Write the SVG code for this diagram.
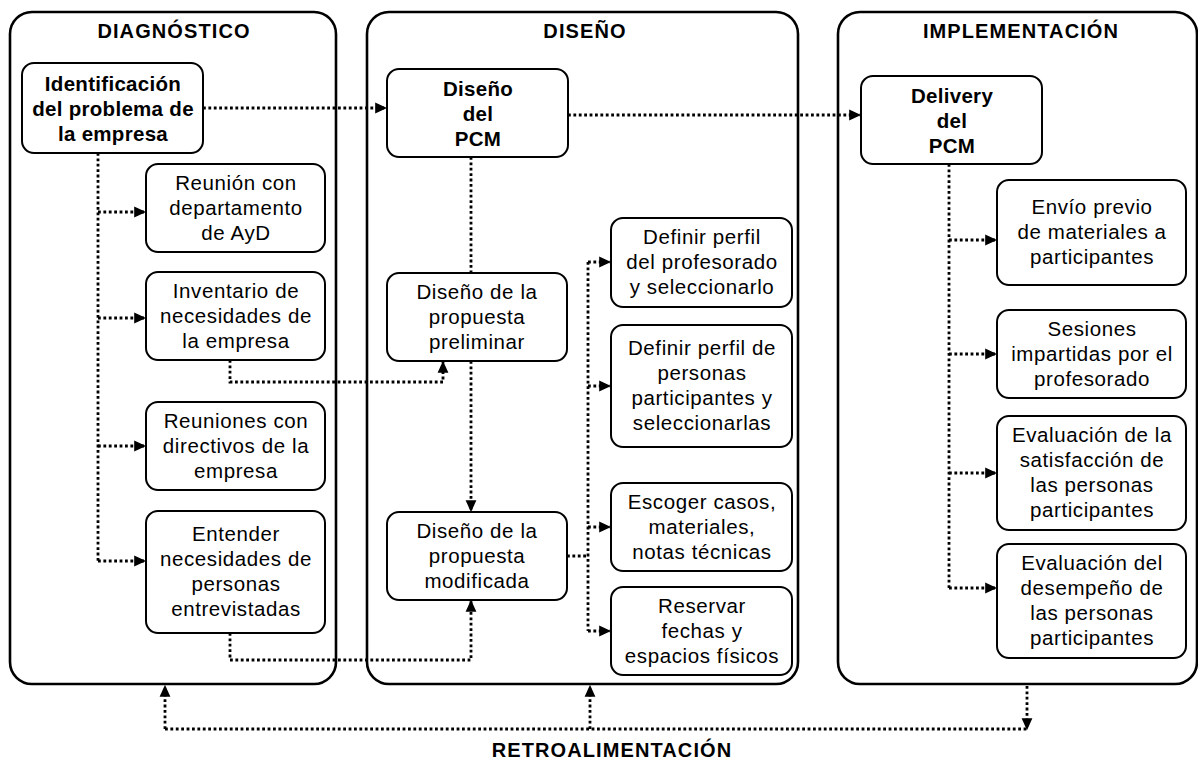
<svg xmlns="http://www.w3.org/2000/svg" width="1198" height="760" viewBox="0 0 1198 760">
<defs>
<style>
.cont{fill:#fff;stroke:#000;stroke-width:2.6}
.node{fill:#fff;stroke:#000;stroke-width:2}
.title{font-family:"Liberation Sans",Arial,sans-serif;font-weight:bold;font-size:20px;letter-spacing:1.1px;text-anchor:middle;fill:#000}
.t{font-family:"Liberation Sans",Arial,sans-serif;font-size:20.5px;letter-spacing:0.6px;text-anchor:middle;fill:#000}
.b{font-weight:bold;letter-spacing:0.3px}
.c{fill:none;stroke:#000;stroke-width:2.8;stroke-dasharray:2.8 2.6}
</style>
<marker id="ah" viewBox="0 0 10 10" refX="9" refY="5" markerWidth="12" markerHeight="12" markerUnits="userSpaceOnUse" orient="auto">
<path d="M0,0.5 L10,5 L0,9.5 z" fill="#000"/>
</marker>
</defs>
<rect width="1198" height="760" fill="#fff"/>

<g id="diagnostico">
<rect class="cont" x="10" y="12" width="326" height="672" rx="22"/>
<text class="title" x="174" y="38">DIAGNÓSTICO</text>
</g>
<g id="diseno">
<rect class="cont" x="367" y="12" width="431" height="672" rx="22"/>
<text class="title" x="585" y="38">DISEÑO</text>
</g>
<g id="implementacion">
<rect class="cont" x="838" y="12" width="359" height="672" rx="22"/>
<text class="title" x="1021" y="38">IMPLEMENTACIÓN</text>
</g>

<g id="connectors">
<path class="c" d="M203,108 H386" marker-end="url(#ah)"/>
<path class="c" d="M98,153 V561"/>
<path class="c" d="M98,212 H145" marker-end="url(#ah)"/>
<path class="c" d="M98,318 H145" marker-end="url(#ah)"/>
<path class="c" d="M98,446 H145" marker-end="url(#ah)"/>
<path class="c" d="M98,561 H145" marker-end="url(#ah)"/>
<path class="c" d="M230,360 V382 H443 V362" marker-end="url(#ah)"/>
<path class="c" d="M230,633 V660 H471 V601" marker-end="url(#ah)"/>
<path class="c" d="M471,157 V273"/>
<path class="c" d="M471,361 V511" marker-end="url(#ah)"/>
<path class="c" d="M567,556 H588"/>
<path class="c" d="M588,262 V631"/>
<path class="c" d="M588,262 H610" marker-end="url(#ah)"/>
<path class="c" d="M588,386 H610" marker-end="url(#ah)"/>
<path class="c" d="M588,527 H610" marker-end="url(#ah)"/>
<path class="c" d="M588,631 H610" marker-end="url(#ah)"/>
<path class="c" d="M568,115 H860" marker-end="url(#ah)"/>
<path class="c" d="M949,164 V588"/>
<path class="c" d="M949,240 H996" marker-end="url(#ah)"/>
<path class="c" d="M949,354 H996" marker-end="url(#ah)"/>
<path class="c" d="M949,473 H996" marker-end="url(#ah)"/>
<path class="c" d="M949,588 H996" marker-end="url(#ah)"/>
<path class="c" d="M165,729 H1027"/>
<path class="c" d="M165,729 V686" marker-end="url(#ah)"/>
<path class="c" d="M590,729 V686" marker-end="url(#ah)"/>
<path class="c" d="M1027,686 V729" marker-end="url(#ah)"/>
</g>

<g id="n-identificacion">
<rect class="node" x="22" y="63" width="181" height="90" rx="12"/>
<text class="t b" x="113" y="91">Identificación</text>
<text class="t b" x="113" y="116">del problema de</text>
<text class="t b" x="113" y="141">la empresa</text>
</g>
<g id="n-reunion">
<rect class="node" x="146" y="164" width="179" height="88" rx="12"/>
<text class="t" x="236" y="190">Reunión con</text>
<text class="t" x="236" y="215">departamento</text>
<text class="t" x="236" y="240">de AyD</text>
</g>
<g id="n-inventario">
<rect class="node" x="146" y="272" width="179" height="88" rx="12"/>
<text class="t" x="236" y="298">Inventario de</text>
<text class="t" x="236" y="323">necesidades de</text>
<text class="t" x="236" y="348">la empresa</text>
</g>
<g id="n-reuniones">
<rect class="node" x="146" y="402" width="179" height="88" rx="12"/>
<text class="t" x="236" y="428">Reuniones con</text>
<text class="t" x="236" y="453">directivos de la</text>
<text class="t" x="236" y="478">empresa</text>
</g>
<g id="n-entender">
<rect class="node" x="146" y="511" width="179" height="122" rx="12"/>
<text class="t" x="236" y="541">Entender</text>
<text class="t" x="236" y="566">necesidades de</text>
<text class="t" x="236" y="591">personas</text>
<text class="t" x="236" y="616">entrevistadas</text>
</g>

<g id="n-disenopcm">
<rect class="node" x="387" y="69" width="181" height="88" rx="12"/>
<text class="t b" x="478" y="96">Diseño</text>
<text class="t b" x="478" y="121">del</text>
<text class="t b" x="478" y="146">PCM</text>
</g>
<g id="n-preliminar">
<rect class="node" x="387" y="273" width="180" height="88" rx="12"/>
<text class="t" x="477" y="299">Diseño de la</text>
<text class="t" x="477" y="324">propuesta</text>
<text class="t" x="477" y="349">preliminar</text>
</g>
<g id="n-modificada">
<rect class="node" x="387" y="512" width="180" height="88" rx="12"/>
<text class="t" x="477" y="538">Diseño de la</text>
<text class="t" x="477" y="563">propuesta</text>
<text class="t" x="477" y="588">modificada</text>
</g>
<g id="n-profesorado">
<rect class="node" x="611" y="218" width="181" height="89" rx="12"/>
<text class="t" x="702" y="244">Definir perfil</text>
<text class="t" x="702" y="269">del profesorado</text>
<text class="t" x="702" y="294">y seleccionarlo</text>
</g>
<g id="n-personas">
<rect class="node" x="611" y="325" width="181" height="122" rx="12"/>
<text class="t" x="702" y="355">Definir perfil de</text>
<text class="t" x="702" y="380">personas</text>
<text class="t" x="702" y="405">participantes y</text>
<text class="t" x="702" y="430">seleccionarlas</text>
</g>
<g id="n-escoger">
<rect class="node" x="611" y="483" width="181" height="88" rx="12"/>
<text class="t" x="702" y="509">Escoger casos,</text>
<text class="t" x="702" y="534">materiales,</text>
<text class="t" x="702" y="559">notas técnicas</text>
</g>
<g id="n-reservar">
<rect class="node" x="611" y="587" width="181" height="88" rx="12"/>
<text class="t" x="702" y="613">Reservar</text>
<text class="t" x="702" y="638">fechas y</text>
<text class="t" x="702" y="663">espacios físicos</text>
</g>

<g id="n-delivery">
<rect class="node" x="861" y="76" width="181" height="88" rx="12"/>
<text class="t b" x="952" y="103">Delivery</text>
<text class="t b" x="952" y="128">del</text>
<text class="t b" x="952" y="153">PCM</text>
</g>
<g id="n-envio">
<rect class="node" x="997" y="180" width="189" height="105" rx="12"/>
<text class="t" x="1092" y="214">Envío previo</text>
<text class="t" x="1092" y="239">de materiales a</text>
<text class="t" x="1092" y="264">participantes</text>
</g>
<g id="n-sesiones">
<rect class="node" x="997" y="310" width="189" height="88" rx="12"/>
<text class="t" x="1092" y="336">Sesiones</text>
<text class="t" x="1092" y="361">impartidas por el</text>
<text class="t" x="1092" y="386">profesorado</text>
</g>
<g id="n-satisfaccion">
<rect class="node" x="997" y="416" width="189" height="114" rx="12"/>
<text class="t" x="1092" y="442">Evaluación de la</text>
<text class="t" x="1092" y="467">satisfacción de</text>
<text class="t" x="1092" y="492">las personas</text>
<text class="t" x="1092" y="517">participantes</text>
</g>
<g id="n-desempeno">
<rect class="node" x="997" y="544" width="189" height="114" rx="12"/>
<text class="t" x="1092" y="570">Evaluación del</text>
<text class="t" x="1092" y="595">desempeño de</text>
<text class="t" x="1092" y="620">las personas</text>
<text class="t" x="1092" y="645">participantes</text>
</g>

<g id="retroalimentacion">
<text class="title" x="612" y="757">RETROALIMENTACIÓN</text>
</g>
</svg>
